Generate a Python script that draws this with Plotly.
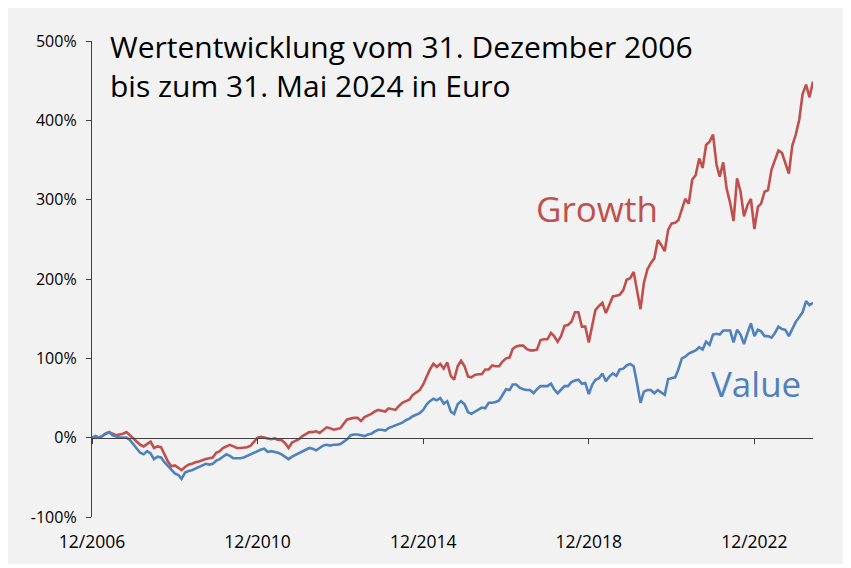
import pandas as pd
import plotly.graph_objects as go

# Monthly cumulative performance (%) from 12/2006 to 05/2024
growth = [0, 2, 0, 2, 5, 7, 5, 3, 4, 5, 7, 3, -2,
          -6, -9, -11, -8, -5, -13, -11, -12, -21, -30, -36, -35,
          -38, -41, -37, -34, -33, -31, -30, -28, -27, -26, -25, -19,
          -17, -13, -11, -9, -11, -13, -13, -12, -12, -10, -5, 0,
          1, 0, -1, -2, -1, -3, -3, -7, -13, -6, -4, -2,
          2, 4, 7, 7, 8, 6, 10, 13, 12, 10, 11, 12,
          18, 23, 24, 25, 25, 21, 26, 28, 30, 33, 35, 34,
          33, 37, 36, 35, 40, 44, 46, 48, 54, 57, 60, 67,
          77, 86, 93, 89, 93, 87, 95, 78, 73, 90, 97, 90,
          77, 76, 79, 80, 80, 86, 86, 91, 90, 90, 96, 100,
          101, 112, 115, 116, 116, 112, 110, 110, 111, 123, 124, 124,
          132, 128, 121, 128, 141, 142, 146, 158, 158, 140, 140, 120,
          142, 161, 166, 170, 157, 168, 178, 179, 180, 186, 199, 201,
          209, 186, 162, 195, 212, 220, 226, 249, 243, 235, 262, 270,
          271, 274, 287, 301, 295, 325, 331, 352, 340, 369, 373, 382,
          344, 329, 347, 314, 296, 273, 327, 310, 279, 293, 301, 263,
          291, 295, 310, 312, 338, 351, 362, 359, 346, 333, 368, 382,
          401, 433, 445, 429, 449]

value = [0, 2, 0, 2, 5, 7, 3, 1, 0, 0, 0, -3, -8,
         -13, -19, -21, -17, -20, -27, -24, -25, -31, -36, -41, -45,
         -47, -52, -44, -42, -41, -39, -37, -34, -33, -34, -33, -29,
         -27, -24, -21, -23, -26, -26, -26, -25, -23, -21, -19, -17,
         -15, -14, -18, -17, -18, -19, -21, -24, -27, -24, -22, -19,
         -17, -15, -13, -14, -16, -13, -10, -9, -10, -9, -9, -8,
         -5, -2, 3, 4, 4, 3, 2, 4, 5, 8, 10, 10,
         9, 12, 14, 15, 17, 19, 22, 24, 27, 29, 31, 35,
         42, 46, 49, 47, 50, 43, 46, 33, 30, 42, 46, 42,
         32, 30, 33, 36, 38, 37, 44, 44, 45, 47, 54, 61,
         60, 67, 67, 63, 61, 60, 60, 56, 61, 65, 65, 65,
         68, 61, 56, 61, 65, 65, 70, 72, 73, 68, 69, 55,
         67, 73, 75, 81, 71, 77, 81, 78, 86, 87, 91, 93,
         90, 69, 44, 58, 60, 60, 56, 60, 57, 54, 74, 75,
         76, 86, 100, 102, 106, 108, 110, 114, 111, 121, 117, 130,
         131, 130, 135, 135, 135, 120, 136, 130, 118, 132, 144, 128,
         136, 134, 128, 128, 126, 132, 140, 137, 136, 128, 138, 146,
         152, 158, 172, 167, 170]

dates = pd.date_range("2006-12-31", periods=len(growth), freq="ME")

x_tickvals = ["2006-12-31", "2010-12-31", "2014-12-31", "2018-12-31", "2022-12-31"]
x_ticktext = ["12/2006", "12/2010", "12/2014", "12/2018", "12/2022"]
y_tickvals = [-100, 0, 100, 200, 300, 400, 500]
y_ticktext = ["-100%", "0%", "100%", "200%", "300%", "400%", "500%"]

title_lines = ["Wertentwicklung vom 31. Dezember 2006", "bis zum 31. Mai 2024 in Euro"]
series_names = ["Growth", "Value"]

RED = "#C0504D"
BLUE = "#4F81BD"
BG = "#F2F2F2"
AX = "#404040"
FONT = "Open Sans"

# the page has an 8px body margin; figure placed at (8, 8)
OFF = 8
W, H = 843, 556
L, R, T, B = 92 - OFF, 851 - 813, 41 - OFF, (H + OFF) - 517
pw, ph = W - L - R, H - T - B


def px(xp):  # page pixel -> paper x
    return (xp - OFF - L) / pw


def py(yp):  # page pixel -> paper y
    return (H - B - (yp - OFF)) / ph


fig = go.Figure()
fig.add_trace(go.Scatter(x=dates, y=growth, mode="lines", name=series_names[0],
                         line=dict(color=RED, width=2.6), showlegend=False))
fig.add_trace(go.Scatter(x=dates, y=value, mode="lines", name=series_names[1],
                         line=dict(color=BLUE, width=2.6), showlegend=False))
# carrier for the zero-line axis
fig.add_trace(go.Scatter(x=[dates[0]], y=[None], xaxis="x2", mode="lines",
                         showlegend=False, hoverinfo="skip"))

fig.update_layout(
    width=W, height=H,
    margin=dict(l=L, r=R, t=T, b=B),
    paper_bgcolor=BG, plot_bgcolor=BG,
    font=dict(family=FONT, color="#000000"),
    xaxis=dict(range=[dates[0], dates[-1]], tickvals=x_tickvals, ticktext=x_ticktext,
               showline=False, ticks="", showgrid=False, zeroline=False,
               tickfont=dict(size=17.5, family=FONT), ticklabelstandoff=12),
    xaxis2=dict(overlaying="x", matches="x", anchor="free", position=1 / 6,
                showline=True, linecolor=AX, linewidth=1.3,
                ticks="outside", ticklen=5, tickwidth=1.3, tickcolor=AX,
                tickvals=x_tickvals, showticklabels=False, showgrid=False, zeroline=False),
    yaxis=dict(range=[-100, 500], tickvals=y_tickvals, ticktext=y_ticktext,
               showline=True, linecolor=AX, linewidth=1.3,
               ticks="outside", ticklen=5, tickwidth=1.3, tickcolor=AX,
               showgrid=False, zeroline=False,
               tickfont=dict(size=16, family=FONT), ticklabelstandoff=6),
    annotations=[
        dict(text="<br>".join(title_lines), xref="paper", yref="paper", x=px(108), y=py(66),
             xanchor="left", yanchor="middle", align="left", showarrow=False,
             font=dict(size=30, family=FONT, color="#000000")),
        dict(text=series_names[0], xref="paper", yref="paper", x=px(597), y=py(208),
             xanchor="center", yanchor="middle", showarrow=False,
             font=dict(size=35, family=FONT, color=RED)),
        dict(text=series_names[1], xref="paper", yref="paper", x=px(756), y=py(383),
             xanchor="center", yanchor="middle", showarrow=False,
             font=dict(size=35, family=FONT, color=BLUE)),
    ],
)

fig.write_html("out.html")
